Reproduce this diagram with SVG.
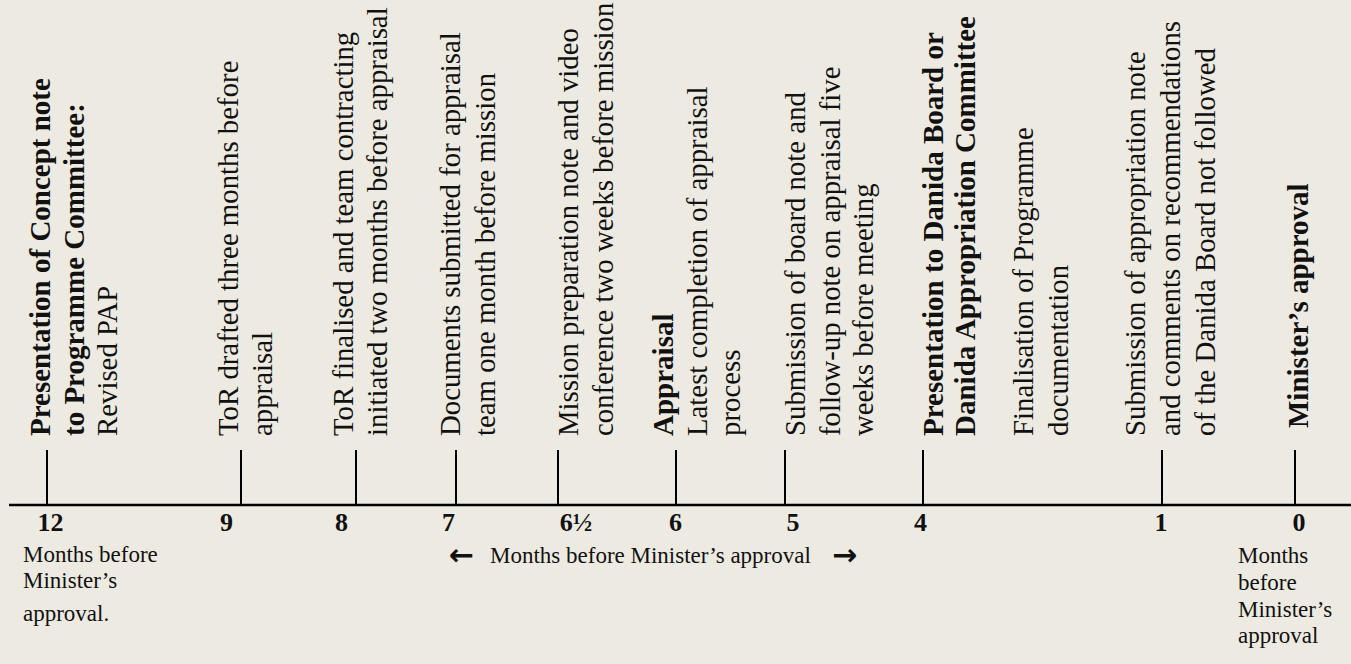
<svg xmlns="http://www.w3.org/2000/svg" width="1351" height="664" viewBox="0 0 1351 664">
<style>
  .bg { fill: #EDEBE1; }
  .lbl { font-family: "Liberation Serif", "Times New Roman", serif; font-size: 28.8px; fill: #111; }
  .b { font-weight: bold; font-size: 29px; }
  .num { font-family: "Liberation Serif", "Times New Roman", serif; font-size: 26px; font-weight: bold; fill: #111; text-anchor: middle; }
  .note { font-family: "Liberation Serif", "Times New Roman", serif; font-size: 23px; fill: #111; }
  .arr { font-family: "DejaVu Sans", sans-serif; font-size: 30px; font-weight: bold; fill: #111; }
  .axis { stroke: #000; stroke-width: 2.5; fill: none; }
  .tick { stroke: #000; stroke-width: 2; fill: none; }
</style>
<rect class="bg" x="0" y="0" width="1351" height="664"/>

<g id="connectors">
  <line class="axis" x1="9" y1="505" x2="1351" y2="505"/>
  <line class="tick" x1="47" y1="450" x2="47" y2="505"/>
  <line class="tick" x1="241" y1="450" x2="241" y2="505"/>
  <line class="tick" x1="356" y1="450" x2="356" y2="505"/>
  <line class="tick" x1="456" y1="450" x2="456" y2="505"/>
  <line class="tick" x1="558" y1="450" x2="558" y2="505"/>
  <line class="tick" x1="676" y1="450" x2="676" y2="505"/>
  <line class="tick" x1="785" y1="450" x2="785" y2="505"/>
  <line class="tick" x1="923" y1="450" x2="923" y2="505"/>
  <line class="tick" x1="1162" y1="450" x2="1162" y2="505"/>
  <line class="tick" x1="1295" y1="450" x2="1295" y2="505"/>
</g>

<g id="m12">
  <text class="lbl" transform="translate(50,436) rotate(-90)"><tspan class="b" x="0" y="0">Presentation of Concept note</tspan><tspan class="b" x="0" y="34">to Programme Committee:</tspan><tspan x="0" y="67">Revised PAP</tspan></text>
  <text class="num" x="50.5" y="531">12</text>
</g>

<g id="m9">
  <text class="lbl" transform="translate(238,436) rotate(-90)"><tspan x="0" y="0">ToR drafted three months before</tspan><tspan x="0" y="34">appraisal</tspan></text>
  <text class="num" x="226.5" y="531">9</text>
</g>

<g id="m8">
  <text class="lbl" transform="translate(353,436) rotate(-90)"><tspan x="0" y="0">ToR finalised and team contracting</tspan><tspan x="0" y="34">initiated two months before appraisal</tspan></text>
  <text class="num" x="341.5" y="531">8</text>
</g>

<g id="m7">
  <text class="lbl" transform="translate(460,436) rotate(-90)"><tspan x="0" y="0">Documents submitted for appraisal</tspan><tspan x="0" y="35">team one month before mission</tspan></text>
  <text class="num" x="448.5" y="531">7</text>
</g>

<g id="m6half">
  <text class="lbl" transform="translate(578,436) rotate(-90)"><tspan x="0" y="0">Mission preparation note and video</tspan><tspan x="0" y="35">conference two weeks before mission</tspan></text>
  <text class="num" x="576" y="531">6½</text>
</g>

<g id="m6">
  <text class="lbl" transform="translate(673,436) rotate(-90)"><tspan class="b" x="0" y="0">Appraisal</tspan><tspan x="0" y="34">Latest completion of appraisal</tspan><tspan x="0" y="67">process</tspan></text>
  <text class="num" x="675.5" y="531">6</text>
</g>

<g id="m5">
  <text class="lbl" transform="translate(805,436) rotate(-90)"><tspan x="0" y="0">Submission of board note and</tspan><tspan x="0" y="35">follow-up note on appraisal five</tspan><tspan x="0" y="68">weeks before meeting</tspan></text>
  <text class="num" x="793" y="531">5</text>
</g>

<g id="m4">
  <text class="lbl" transform="translate(943,436) rotate(-90)"><tspan class="b" x="0" y="0">Presentation to Danida Board  or</tspan><tspan class="b" x="0" y="32">Danida Appropriation Committee</tspan></text>
  <text class="num" x="920.5" y="531">4</text>
</g>

<g id="finalisation">
  <text class="lbl" transform="translate(1033,436) rotate(-90)"><tspan x="0" y="0">Finalisation of Programme</tspan><tspan x="0" y="35">documentation</tspan></text>
</g>

<g id="m1">
  <text class="lbl" transform="translate(1145,436) rotate(-90)"><tspan x="0" y="0">Submission of appropriation note</tspan><tspan x="0" y="35">and comments on recommendations</tspan><tspan x="0" y="70">of the Danida Board not followed</tspan></text>
  <text class="num" x="1161" y="531">1</text>
</g>

<g id="m0">
  <text class="lbl" transform="translate(1308,428) rotate(-90)"><tspan class="b" x="0" y="0">Minister’s approval</tspan></text>
  <text class="num" x="1299" y="531">0</text>
</g>

<g id="note-left">
  <text class="note" x="23" y="562">Months before</text>
  <text class="note" x="23" y="588">Minister’s</text>
  <text class="note" x="23" y="621">approval.</text>
</g>

<g id="note-middle">
  <text class="arr" x="449" y="565">←</text>
  <text class="note" x="490" y="563">Months before Minister’s approval</text>
  <text class="arr" x="832" y="565">→</text>
</g>

<g id="note-right">
  <text class="note" x="1238" y="563">Months</text>
  <text class="note" x="1238" y="590">before</text>
  <text class="note" x="1238" y="617">Minister’s</text>
  <text class="note" x="1238" y="643">approval</text>
</g>
</svg>
